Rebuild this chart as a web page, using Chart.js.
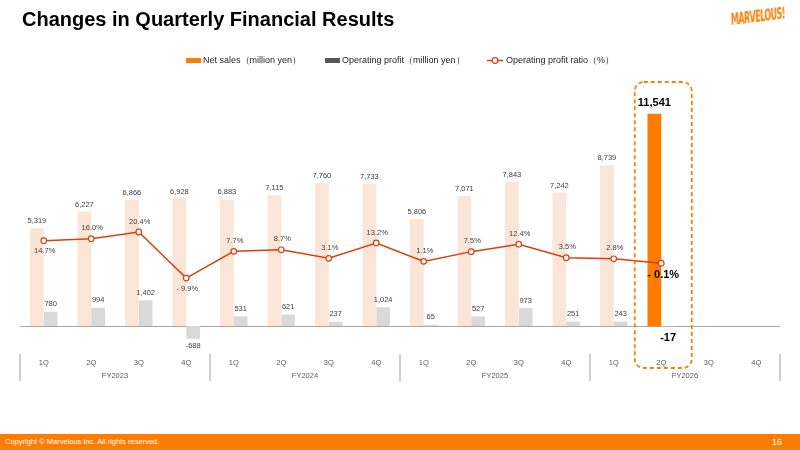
<!DOCTYPE html>
<html>
<head>
<meta charset="utf-8">
<script src="https://cdn.jsdelivr.net/npm/chart.js@4.4.1/dist/chart.umd.min.js"></script>
<style>
    body { margin: 0; width: 800px; height: 450px; overflow: hidden; background: #fff; position: relative; font-family: "Liberation Sans", Arial, sans-serif; }
    #title { position: absolute; left: 22px; top: 9px; font-size: 20px; line-height: 20px; font-weight: bold; color: #000; z-index: 2; }
    #logo { position: absolute; left: 731px; top: 12px; font-family: "DejaVu Sans Condensed", "DejaVu Sans", sans-serif; font-size: 16px; line-height: 16px; font-weight: bold; font-style: italic; letter-spacing: -1px; color: #ff7c00; transform-origin: left center; transform: rotate(-7deg) scaleX(0.56); z-index: 2; }
    #chart { position: absolute; left: 0; top: 0; }
    #footer { position: absolute; left: 0; top: 434px; width: 800px; height: 16px; background: #ff7c00; color: #fff; z-index: 2; }
    #footer .copy { position: absolute; left: 5px; top: 4px; font-size: 7.5px; line-height: 8px; }
    #footer .page { position: absolute; right: 18px; top: 3px; font-size: 9px; line-height: 10px; }
</style>
</head>
<body>
<div id="title">Changes in Quarterly Financial Results</div>
<div id="logo">MARVELOUS!</div>
<canvas id="chart" width="800" height="450"></canvas>
<div id="footer"><span class="copy">Copyright © Marvelous Inc. All rights reserved.</span><span class="page">16</span></div>
<script>
    const quarters = ["1Q", "2Q", "3Q", "4Q", "1Q", "2Q", "3Q", "4Q", "1Q", "2Q", "3Q", "4Q", "1Q", "2Q", "3Q", "4Q"];
    const fiscalYears = ["FY2023", "FY2024", "FY2025", "FY2026"];
    const netSales = [5319, 6227, 6866, 6928, 6883, 7115, 7760, 7733, 5806, 7071, 7843, 7242, 8739, 11541, null, null];
    const operatingProfit = [780, 994, 1402, -688, 531, 621, 237, 1024, 65, 527, 973, 251, 243, -17, null, null];
    const profitRatio = [14.7, 16.0, 20.4, -9.9, 7.7, 8.7, 3.1, 13.2, 1.1, 7.5, 12.4, 3.5, 2.8, -0.1, null, null];
    const seriesNames = ["Net sales（million yen）", "Operating profit（million yen）", "Operating profit ratio（%）"];

    const HIGHLIGHT = 13;
    const ORANGE = "#ff7c00";
    const PALE = "#fbe5d6";
    const GREY = "#d9d9d9";
    const RED = "#d9400e";
    const TEXT = "#404040";

    const fmtNum = (v) => v.toLocaleString("en-US");
    const fmtPct = (v) => (v < 0 ? "- " + Math.abs(v).toFixed(1) : v.toFixed(1)) + "%";

    const drawText = (ctx, text, x, y, font, color) => {
        ctx.font = font;
        ctx.fillStyle = color;
        ctx.textAlign = "center";
        ctx.textBaseline = "middle";
        ctx.fillText(text, x, y);
    };

    const slidePlugin = {
        id: "slide",
        beforeDatasetsDraw(chart) {
            const { ctx, chartArea, scales } = chart;
            const y0 = Math.round(scales.y.getPixelForValue(0)) + 0.5;
            ctx.save();
            ctx.strokeStyle = "#a6a6a6";
            ctx.lineWidth = 1;
            ctx.beginPath();
            ctx.moveTo(chartArea.left, y0);
            ctx.lineTo(chartArea.right, y0);
            ctx.stroke();
            ctx.restore();
        },
        afterDatasetsDraw(chart, args, opts) {
            const { ctx, scales } = chart;
            const x = scales.x;
            const salesMeta = chart.getDatasetMeta(0).data;
            const profitMeta = chart.getDatasetMeta(1).data;
            const ratioMeta = chart.getDatasetMeta(2).data;
            const small = "7.5px 'Liberation Sans', Arial, sans-serif";
            const bold = "bold 11px 'Liberation Sans', Arial, sans-serif";
            ctx.save();

            netSales.forEach((v, i) => {
                if (v == null) return;
                const bar = salesMeta[i];
                if (i === HIGHLIGHT) {
                    drawText(ctx, fmtNum(v), bar.x, bar.y - 10.5, bold, "#000");
                } else {
                    drawText(ctx, fmtNum(v), bar.x, bar.y - 7, small, TEXT);
                }
            });

            operatingProfit.forEach((v, i) => {
                if (v == null) return;
                const bar = profitMeta[i];
                if (i === HIGHLIGHT) {
                    drawText(ctx, fmtNum(v), bar.x, bar.y + 12, bold, "#000");
                } else if (v < 0) {
                    drawText(ctx, fmtNum(v), bar.x, bar.y + 7, small, TEXT);
                } else {
                    drawText(ctx, fmtNum(v), bar.x, bar.y - 7.5, small, TEXT);
                }
            });

            profitRatio.forEach((v, i) => {
                if (v == null) return;
                const pt = ratioMeta[i];
                const below = opts.ratioBelow.includes(i);
                if (i === HIGHLIGHT) {
                    drawText(ctx, fmtPct(v), pt.x + 2, pt.y + 11.5, bold, "#000");
                } else {
                    drawText(ctx, fmtPct(v), pt.x + 1, pt.y + (below ? 10.5 : -10.5), small, TEXT);
                }
            });

            // category axis: quarters, fiscal years, separators
            const catW = x.getPixelForValue(1) - x.getPixelForValue(0);
            quarters.forEach((q, i) => {
                drawText(ctx, q, x.getPixelForValue(i), 363, small, "#595959");
            });
            fiscalYears.forEach((fy, g) => {
                const cx = (x.getPixelForValue(g * 4 + 1) + x.getPixelForValue(g * 4 + 2)) / 2;
                drawText(ctx, fy, cx, 376, small, "#595959");
            });
            ctx.strokeStyle = "#bfbfbf";
            ctx.lineWidth = 1.5;
            for (let g = 0; g <= fiscalYears.length; g++) {
                const bx = x.getPixelForValue(g * 4) - catW / 2;
                ctx.beginPath();
                ctx.moveTo(bx, 354);
                ctx.lineTo(bx, 381);
                ctx.stroke();
            }

            // highlight frame around the latest quarter
            const hx = x.getPixelForValue(HIGHLIGHT) + 2;
            ctx.strokeStyle = ORANGE;
            ctx.lineWidth = 1.8;
            ctx.setLineDash([4, 3]);
            ctx.beginPath();
            ctx.roundRect(hx - 28.5, 82, 57, 286, 9);
            ctx.stroke();
            ctx.setLineDash([]);

            // legend
            const ly = 60.5;
            const lfont = "9px 'Liberation Sans', Arial, sans-serif";
            ctx.fillStyle = ORANGE;
            ctx.fillRect(186, ly - 2.5, 15, 5);
            ctx.fillStyle = "#595959";
            ctx.fillRect(325, ly - 2.5, 15, 5);
            ctx.strokeStyle = RED;
            ctx.lineWidth = 1.5;
            ctx.beginPath();
            ctx.moveTo(487, ly);
            ctx.lineTo(503, ly);
            ctx.stroke();
            ctx.beginPath();
            ctx.arc(495, ly, 2.8, 0, Math.PI * 2);
            ctx.fillStyle = "#fff";
            ctx.fill();
            ctx.lineWidth = 1.2;
            ctx.stroke();
            ctx.font = lfont;
            ctx.fillStyle = "#262626";
            ctx.textAlign = "left";
            ctx.textBaseline = "middle";
            ctx.fillText(seriesNames[0], 203, ly);
            ctx.fillText(seriesNames[1], 342, ly);
            ctx.fillText(seriesNames[2], 506, ly);

            ctx.restore();
        }
    };

    new Chart(document.getElementById("chart"), {
        type: "bar",
        data: {
            labels: quarters,
            datasets: [{
                label: seriesNames[0],
                data: netSales,
                backgroundColor: netSales.map((v, i) => i === HIGHLIGHT ? ORANGE : PALE),
                barPercentage: 1,
                categoryPercentage: 0.58,
                order: 1
            }, {
                label: seriesNames[1],
                data: operatingProfit,
                backgroundColor: GREY,
                barPercentage: 1,
                categoryPercentage: 0.58,
                order: 1
            }, {
                type: "line",
                label: seriesNames[2],
                data: profitRatio,
                yAxisID: "y1",
                borderColor: RED,
                borderWidth: 1.5,
                pointRadius: 2.8,
                pointBorderWidth: 1.2,
                pointBackgroundColor: "#fff",
                pointBorderColor: RED,
                tension: 0,
                order: 0
            }]
        },
        options: {
            responsive: false,
            animation: false,
            layout: {
                padding: { left: 20, right: 20, top: 90, bottom: 105 }
            },
            scales: {
                x: { display: false },
                y: { display: false, min: -1030, max: 12830 },
                y1: { display: false, min: -53.9, max: 113.8 }
            },
            plugins: {
                legend: { display: false },
                tooltip: { enabled: false },
                slide: { ratioBelow: [0, 3] }
            }
        },
        plugins: [slidePlugin]
    });
</script>
</body>
</html>
